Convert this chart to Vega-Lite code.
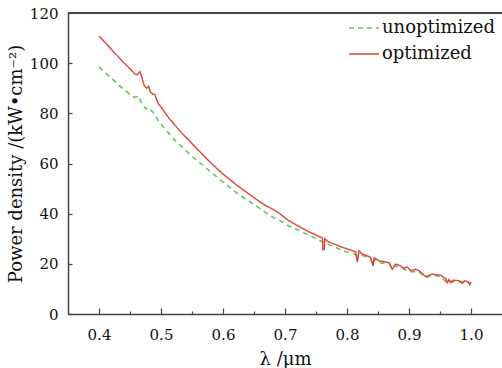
{
  "$schema": "https://vega.github.io/schema/vega-lite/v6.json",
  "width": 434,
  "height": 301,
  "padding": {"left": 7, "top": 6, "right": 0, "bottom": 0},
  "background": "white",
  "config": {
    "view": {"stroke": null},
    "font": "DejaVu Serif",
    "axis": {
      "domainColor": "#444",
      "domainWidth": 1.5,
      "tickColor": "#444",
      "tickWidth": 1.2,
      "grid": false,
      "labelFont": "DejaVu Serif",
      "labelFontSize": 15,
      "labelColor": "#111",
      "titleFont": "DejaVu Serif",
      "titleFontSize": 18,
      "titleFontWeight": "normal",
      "titleColor": "#111"
    },
    "legend": {
      "labelFont": "DejaVu Serif",
      "labelFontSize": 18,
      "labelColor": "#111"
    }
  },
  "data": {
    "values": [
      {"s": "unoptimized", "x": 0.400, "y": 98.5},
      {"s": "unoptimized", "x": 0.410, "y": 96.3},
      {"s": "unoptimized", "x": 0.420, "y": 94.0},
      {"s": "unoptimized", "x": 0.430, "y": 91.8},
      {"s": "unoptimized", "x": 0.440, "y": 89.5},
      {"s": "unoptimized", "x": 0.450, "y": 87.6},
      {"s": "unoptimized", "x": 0.458, "y": 86.3},
      {"s": "unoptimized", "x": 0.464, "y": 86.9},
      {"s": "unoptimized", "x": 0.467, "y": 85.0},
      {"s": "unoptimized", "x": 0.472, "y": 82.8},
      {"s": "unoptimized", "x": 0.476, "y": 81.8},
      {"s": "unoptimized", "x": 0.480, "y": 82.3},
      {"s": "unoptimized", "x": 0.484, "y": 81.2},
      {"s": "unoptimized", "x": 0.489, "y": 80.0},
      {"s": "unoptimized", "x": 0.497, "y": 76.6},
      {"s": "unoptimized", "x": 0.521, "y": 69.6},
      {"s": "unoptimized", "x": 0.548, "y": 63.3},
      {"s": "unoptimized", "x": 0.569, "y": 59.0},
      {"s": "unoptimized", "x": 0.596, "y": 53.4},
      {"s": "unoptimized", "x": 0.623, "y": 48.1},
      {"s": "unoptimized", "x": 0.650, "y": 43.7},
      {"s": "unoptimized", "x": 0.677, "y": 39.0},
      {"s": "unoptimized", "x": 0.690, "y": 37.5},
      {"s": "unoptimized", "x": 0.706, "y": 35.1},
      {"s": "unoptimized", "x": 0.723, "y": 33.3},
      {"s": "unoptimized", "x": 0.760, "y": 28.8},
      {"s": "unoptimized", "x": 0.798, "y": 24.8},
      {"s": "unoptimized", "x": 0.814, "y": 23.8},
      {"s": "unoptimized", "x": 0.8166, "y": 21.5},
      {"s": "unoptimized", "x": 0.8194, "y": 23.8},
      {"s": "unoptimized", "x": 0.831, "y": 22.8},
      {"s": "unoptimized", "x": 0.838, "y": 22.0},
      {"s": "unoptimized", "x": 0.842, "y": 19.8},
      {"s": "unoptimized", "x": 0.844, "y": 21.8},
      {"s": "unoptimized", "x": 0.855, "y": 20.3},
      {"s": "unoptimized", "x": 0.868, "y": 20.0},
      {"s": "unoptimized", "x": 0.873, "y": 18.0},
      {"s": "unoptimized", "x": 0.878, "y": 19.3},
      {"s": "unoptimized", "x": 0.892, "y": 17.8},
      {"s": "unoptimized", "x": 0.903, "y": 16.9},
      {"s": "unoptimized", "x": 0.916, "y": 16.8},
      {"s": "unoptimized", "x": 0.927, "y": 14.5},
      {"s": "unoptimized", "x": 0.938, "y": 15.5},
      {"s": "unoptimized", "x": 0.951, "y": 14.9},
      {"s": "unoptimized", "x": 0.962, "y": 12.3},
      {"s": "unoptimized", "x": 0.967, "y": 12.8},
      {"s": "unoptimized", "x": 0.980, "y": 12.9},
      {"s": "unoptimized", "x": 0.990, "y": 12.9},
      {"s": "unoptimized", "x": 1.000, "y": 12.4},
      {"s": "optimized", "x": 0.400, "y": 110.8},
      {"s": "optimized", "x": 0.410, "y": 108.2},
      {"s": "optimized", "x": 0.420, "y": 105.5},
      {"s": "optimized", "x": 0.430, "y": 102.8},
      {"s": "optimized", "x": 0.440, "y": 100.2},
      {"s": "optimized", "x": 0.450, "y": 97.8},
      {"s": "optimized", "x": 0.458, "y": 95.6},
      {"s": "optimized", "x": 0.462, "y": 95.4},
      {"s": "optimized", "x": 0.466, "y": 96.6},
      {"s": "optimized", "x": 0.469, "y": 94.5},
      {"s": "optimized", "x": 0.473, "y": 91.0},
      {"s": "optimized", "x": 0.477, "y": 90.0},
      {"s": "optimized", "x": 0.480, "y": 90.8},
      {"s": "optimized", "x": 0.483, "y": 88.5},
      {"s": "optimized", "x": 0.487, "y": 87.6},
      {"s": "optimized", "x": 0.490, "y": 87.5},
      {"s": "optimized", "x": 0.492, "y": 86.0},
      {"s": "optimized", "x": 0.496, "y": 83.8},
      {"s": "optimized", "x": 0.500, "y": 82.5},
      {"s": "optimized", "x": 0.513, "y": 78.0},
      {"s": "optimized", "x": 0.534, "y": 72.0},
      {"s": "optimized", "x": 0.556, "y": 66.4},
      {"s": "optimized", "x": 0.577, "y": 61.1},
      {"s": "optimized", "x": 0.599, "y": 56.0},
      {"s": "optimized", "x": 0.620, "y": 51.8},
      {"s": "optimized", "x": 0.642, "y": 47.8},
      {"s": "optimized", "x": 0.663, "y": 44.1},
      {"s": "optimized", "x": 0.684, "y": 41.2},
      {"s": "optimized", "x": 0.688, "y": 40.6},
      {"s": "optimized", "x": 0.691, "y": 40.1},
      {"s": "optimized", "x": 0.706, "y": 37.2},
      {"s": "optimized", "x": 0.723, "y": 34.8},
      {"s": "optimized", "x": 0.740, "y": 32.6},
      {"s": "optimized", "x": 0.7605, "y": 30.3},
      {"s": "optimized", "x": 0.761, "y": 25.6},
      {"s": "optimized", "x": 0.7635, "y": 25.8},
      {"s": "optimized", "x": 0.764, "y": 30.0},
      {"s": "optimized", "x": 0.770, "y": 28.8},
      {"s": "optimized", "x": 0.790, "y": 26.8},
      {"s": "optimized", "x": 0.814, "y": 24.8},
      {"s": "optimized", "x": 0.8166, "y": 20.8},
      {"s": "optimized", "x": 0.8194, "y": 25.2},
      {"s": "optimized", "x": 0.8247, "y": 23.9},
      {"s": "optimized", "x": 0.831, "y": 23.4},
      {"s": "optimized", "x": 0.838, "y": 22.6},
      {"s": "optimized", "x": 0.842, "y": 19.1},
      {"s": "optimized", "x": 0.844, "y": 22.4},
      {"s": "optimized", "x": 0.8516, "y": 21.2},
      {"s": "optimized", "x": 0.8677, "y": 20.5},
      {"s": "optimized", "x": 0.873, "y": 17.8},
      {"s": "optimized", "x": 0.8785, "y": 19.9},
      {"s": "optimized", "x": 0.884, "y": 19.5},
      {"s": "optimized", "x": 0.892, "y": 18.2},
      {"s": "optimized", "x": 0.897, "y": 18.8},
      {"s": "optimized", "x": 0.9027, "y": 17.3},
      {"s": "optimized", "x": 0.911, "y": 17.8},
      {"s": "optimized", "x": 0.916, "y": 17.3},
      {"s": "optimized", "x": 0.927, "y": 14.9},
      {"s": "optimized", "x": 0.9376, "y": 15.9},
      {"s": "optimized", "x": 0.951, "y": 15.4},
      {"s": "optimized", "x": 0.959, "y": 14.2},
      {"s": "optimized", "x": 0.962, "y": 12.5},
      {"s": "optimized", "x": 0.9645, "y": 13.8},
      {"s": "optimized", "x": 0.967, "y": 12.5},
      {"s": "optimized", "x": 0.971, "y": 13.5},
      {"s": "optimized", "x": 0.9806, "y": 13.3},
      {"s": "optimized", "x": 0.986, "y": 12.2},
      {"s": "optimized", "x": 0.990, "y": 13.3},
      {"s": "optimized", "x": 0.9957, "y": 12.7},
      {"s": "optimized", "x": 0.998, "y": 11.6},
      {"s": "optimized", "x": 1.000, "y": 12.7}
    ]
  },
  "resolve": {"axis": {"x": "independent"}},
  "layer": [
    {
      "transform": [{"filter": "datum.s === 'unoptimized'"}],
      "mark": {"type": "line", "strokeWidth": 1.6},
      "encoding": {
        "x": {
          "field": "x", "type": "quantitative",
          "scale": {"domain": [0.35, 1.05], "nice": false, "zero": false},
          "axis": {
            "orient": "bottom",
            "title": "λ /μm",
            "values": [0.4, 0.5, 0.6, 0.7, 0.8, 0.9, 1.0],
            "format": ".1f",
            "tickSize": -6,
            "labelPadding": 19,
            "titlePadding": 8
          }
        },
        "y": {
          "field": "y", "type": "quantitative",
          "scale": {"domain": [0, 120], "nice": false},
          "axis": {
            "title": "Power density /(kW•cm⁻²)",
            "values": [0, 10, 20, 30, 40, 50, 60, 70, 80, 90, 100, 110, 120],
            "labelExpr": "datum.value % 20 === 0 ? datum.label : ''",
            "tickSize": -4,
            "labelPadding": 14,
            "titlePadding": 4
          }
        },
        "color": {
          "field": "s", "type": "nominal",
          "scale": {"domain": ["unoptimized", "optimized"], "range": ["#66c757", "#e4403a"]},
          "legend": {
            "title": null,
            "orient": "none",
            "legendX": 280,
            "legendY": -1,
            "symbolType": "stroke",
            "symbolSize": 900,
            "symbolStrokeWidth": 1.6,
            "rowPadding": 1,
            "labelOffset": 2,
            "padding": 0
          }
        },
        "strokeDash": {
          "field": "s", "type": "nominal",
          "scale": {"domain": ["unoptimized", "optimized"], "range": [[5, 4], [1, 0]]},
          "legend": {
            "title": null,
            "orient": "none",
            "legendX": 280,
            "legendY": -1,
            "symbolType": "stroke",
            "symbolSize": 900,
            "symbolStrokeWidth": 1.6,
            "rowPadding": 1,
            "labelOffset": 2,
            "padding": 0
          }
        }
      }
    },
    {
      "transform": [{"filter": "datum.s === 'optimized'"}],
      "mark": {"type": "line", "strokeWidth": 1.4},
      "encoding": {
        "x": {
          "field": "x", "type": "quantitative",
          "scale": {"domain": [0.35, 1.05], "nice": false, "zero": false},
          "axis": {
            "orient": "bottom",
            "title": null,
            "values": [0.45, 0.55, 0.65, 0.75, 0.85, 0.95],
            "labels": false,
            "domain": false,
            "tickSize": -3
          }
        },
        "y": {"field": "y", "type": "quantitative"},
        "color": {"field": "s", "type": "nominal"},
        "strokeDash": {"field": "s", "type": "nominal"}
      }
    },
    {
      "mark": {"type": "rule", "color": "#444", "strokeWidth": 1.5},
      "encoding": {"y": {"datum": 120, "type": "quantitative"}}
    }
  ]
}
